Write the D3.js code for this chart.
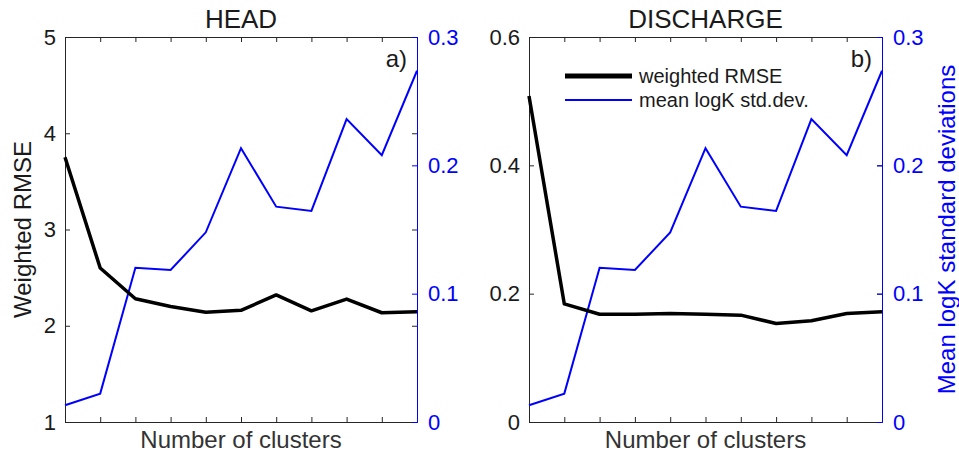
<!DOCTYPE html>
<html>
<head>
<meta charset="utf-8">
<script src="https://cdn.jsdelivr.net/npm/d3@7"></script>
<style>
  body { margin: 0; background: #fff; }
  svg { font-family: "Liberation Sans", Arial, sans-serif; }
</style>
</head>
<body>
<script>
// Cluster index (11 runs, x axis has no labels)
const clusters = [1, 2, 3, 4, 5, 6, 7, 8, 9, 10, 11];

// Weighted RMSE, head and discharge
const headRmse = [3.75, 2.6, 2.28, 2.2, 2.14, 2.16, 2.32, 2.155, 2.277, 2.135, 2.145];
const dischargeRmse = [0.508, 0.184, 0.168, 0.168, 0.169, 0.168, 0.1665, 0.1535, 0.1577, 0.169, 0.1717];

// Mean logK std.dev. (same series in both panels)
const logkStd = [0.013, 0.0221, 0.1202, 0.1184, 0.1478, 0.2134, 0.1678, 0.1645, 0.236, 0.2079, 0.2737];

const headTicks = [1, 2, 3, 4, 5];
const dischargeTicks = [0, 0.2, 0.4, 0.6];
const stdTicks = [0, 0.1, 0.2, 0.3];

const width = 959;
const height = 458;
const blue = "#0000ff";
const axisColor = "#262626";

const svg = d3.select("body")
    .append("svg")
        .attr("width", width)
        .attr("height", height);

function panel(opts) {
    const { left, right, title, tag, rmse, domain, ticks, showLegend, showRightLabel } = opts;
    const top = 37, bottom = 422;

    const x = d3.scaleLinear()
        .domain([1, 11])
        .range([left, right]);

    const y = d3.scaleLinear()
        .domain(domain)
        .range([bottom, top]);

    const y2 = d3.scaleLinear()
        .domain([0, 0.3])
        .range([bottom, top]);

    const g = svg.append("g");

    // Bottom and top x ticks (no labels)
    g.append("g")
        .attr("transform", `translate(0,${bottom})`)
        .call(d3.axisBottom(x).tickValues(clusters).tickSize(-5).tickFormat(""));
    g.append("g")
        .attr("transform", `translate(0,${top})`)
        .call(d3.axisTop(x).tickValues(clusters).tickSize(-5).tickFormat(""));

    // Left axis
    g.append("g")
        .attr("class", "yl")
        .attr("transform", `translate(${left},0)`)
        .call(d3.axisLeft(y).tickValues(ticks).tickSize(-5).tickPadding(9)
            .tickFormat(d => d3.format("")(+d.toFixed(1))));

    // Mirrored left-axis ticks on the right side
    g.append("g")
        .attr("transform", `translate(${right},0)`)
        .call(d3.axisRight(y).tickValues(ticks).tickSize(-5).tickFormat(""))
        .call(a => a.select(".domain").remove());

    // Right axis (blue)
    g.append("g")
        .attr("class", "yr")
        .attr("transform", `translate(${right},0)`)
        .call(d3.axisRight(y2).tickValues(stdTicks).tickSize(-5).tickPadding(11)
            .tickFormat(d => d3.format("")(+d.toFixed(1))));

    g.selectAll(".domain, .tick line")
        .attr("stroke", axisColor)
        .attr("stroke-width", 1);
    g.selectAll(".tick text")
        .attr("fill", "#1a1a1a")
        .style("font-size", "22px");
    g.select(".yr").selectAll(".domain, .tick line").attr("stroke", blue);
    g.select(".yr").selectAll(".tick text").attr("fill", blue);

    // Lines
    g.append("path")
        .datum(logkStd)
        .attr("fill", "none")
        .attr("stroke", blue)
        .attr("stroke-width", 2)
        .attr("d", d3.line()
            .x((d, i) => x(clusters[i]))
            .y(d => y2(d)));

    g.append("path")
        .datum(rmse)
        .attr("fill", "none")
        .attr("stroke", "#000")
        .attr("stroke-width", 3.5)
        .attr("stroke-linejoin", "round")
        .attr("d", d3.line()
            .x((d, i) => x(clusters[i]))
            .y(d => y(d)));

    // Title
    g.append("text")
        .attr("x", (left + right) / 2)
        .attr("y", 28)
        .attr("text-anchor", "middle")
        .style("font-size", "26px")
        .attr("fill", "#1a1a1a")
        .text(title);

    // Panel tag
    g.append("text")
        .attr("x", right - 10)
        .attr("y", 67)
        .attr("text-anchor", "end")
        .style("font-size", "24px")
        .attr("fill", "#1a1a1a")
        .text(tag);

    // X label
    g.append("text")
        .attr("x", (left + right) / 2)
        .attr("y", 448)
        .attr("text-anchor", "middle")
        .style("font-size", "24px")
        .attr("fill", "#333")
        .text("Number of clusters");

    if (showRightLabel) {
        g.append("text")
            .attr("transform", `translate(${right + 73},${(top + bottom) / 2}) rotate(-90)`)
            .attr("text-anchor", "middle")
            .style("font-size", "24px")
            .attr("fill", blue)
            .text("Mean logK standard deviations");
    }

    if (showLegend) {
        const items = [
            { label: "weighted RMSE", color: "#000", w: 5 },
            { label: "mean logK std.dev.", color: blue, w: 2 }
        ];
        const lg = g.append("g");
        items.forEach((it, i) => {
            const ly = 76 + i * 24;
            lg.append("line")
                .attr("x1", left + 36).attr("x2", left + 103)
                .attr("y1", ly).attr("y2", ly)
                .attr("stroke", it.color)
                .attr("stroke-width", it.w);
            lg.append("text")
                .attr("x", left + 110)
                .attr("y", ly + 7)
                .style("font-size", "20px")
                .attr("fill", "#1a1a1a")
                .text(it.label);
        });
    }
}

// Left y label for panel a
svg.append("text")
    .attr("transform", `translate(31,${(37 + 422) / 2}) rotate(-90)`)
    .attr("text-anchor", "middle")
    .style("font-size", "24px")
    .attr("fill", "#1a1a1a")
    .text("Weighted RMSE");

panel({ left: 65, right: 417, title: "HEAD", tag: "a)", rmse: headRmse,
        domain: [1, 5], ticks: headTicks, showLegend: false, showRightLabel: false });
panel({ left: 529, right: 882, title: "DISCHARGE", tag: "b)", rmse: dischargeRmse,
        domain: [0, 0.6], ticks: dischargeTicks, showLegend: true, showRightLabel: true });
</script>
</body>
</html>
